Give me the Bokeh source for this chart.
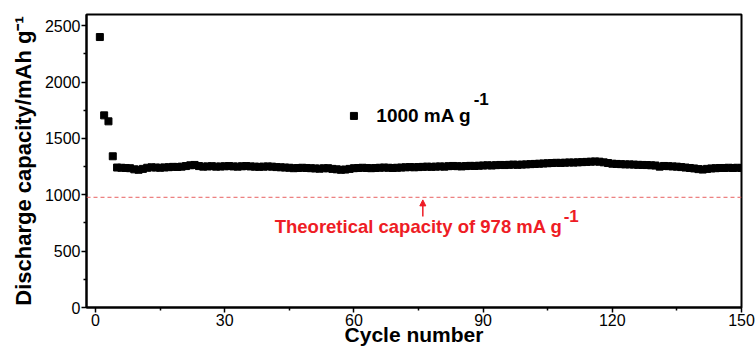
from bokeh.plotting import figure
from bokeh.models import Span, Arrow, NormalHead, Label, Range1d, FixedTicker
from bokeh.embed import file_html
from bokeh.resources import INLINE

# ---- data ----
cycles = list(range(1, 151))
capacity = [
    2400, 1705, 1652, 1342, 1242, 1240, 1238, 1236, 1226, 1222,
    1230, 1240, 1244, 1242, 1240, 1243, 1245, 1248, 1247, 1250,
    1255, 1262, 1265, 1255, 1250, 1252, 1254, 1250, 1251, 1253,
    1255, 1252, 1250, 1253, 1255, 1252, 1250, 1248, 1250, 1252,
    1250, 1246, 1244, 1242, 1240, 1236, 1238, 1240, 1238, 1236,
    1234, 1232, 1235, 1236, 1230, 1226, 1222, 1224, 1230, 1236,
    1238, 1240, 1238, 1236, 1238, 1240, 1242, 1240, 1238, 1240,
    1242, 1244, 1246, 1244, 1246, 1248, 1250, 1248, 1250, 1252,
    1250, 1254, 1256, 1254, 1252, 1255, 1257, 1256, 1258, 1260,
    1262, 1260, 1263, 1265, 1264, 1266, 1268, 1266, 1268, 1270,
    1272, 1274, 1276, 1278, 1280, 1282, 1284, 1283, 1285, 1287,
    1286, 1288, 1290, 1292, 1294, 1296, 1294, 1288, 1282, 1276,
    1274, 1272, 1270, 1270, 1268, 1266, 1265, 1264, 1262, 1260,
    1250, 1256, 1254, 1252, 1250, 1246, 1242, 1238, 1234, 1228,
    1224, 1230, 1234, 1236, 1238, 1238, 1240, 1238, 1240, 1238,
]
x_ticks = [0, 30, 60, 90, 120, 150]
y_ticks = [0, 500, 1000, 1500, 2000, 2500]
theoretical_capacity = 978
legend_point_x = [60]
legend_point_y = [1700]
legend_text = "1000 mA g"
annotation_text = "Theoretical capacity of 978 mA g"
x_title = "Cycle number"
y_title = "Discharge capacity/mAh g\u207b\u00b9"
sup_text = "-1"

FONT = "Liberation Sans"
RED = "#ee1c25"

p = figure(width=756, height=348, output_backend="svg", toolbar_location=None,
           x_range=Range1d(-2.1, 150), y_range=Range1d(0, 2600),
           min_border_left=86, min_border_right=15, min_border_top=14, min_border_bottom=41)
p.grid.visible = False
p.outline_line_color = "black"
p.outline_line_width = 2
p.outline_line_alpha = 1
p.background_fill_color = "white"
p.border_fill_color = "white"

for ax, ticks in ((p.xaxis, x_ticks), (p.yaxis, y_ticks)):
    step = ticks[1] - ticks[0]
    minors = [t + step / 2 for t in ticks[:-1]]
    ax.ticker = FixedTicker(ticks=ticks, minor_ticks=minors)
    ax.axis_line_color = "black"
    ax.axis_line_width = 2
    ax.major_tick_line_width = 1.5
    ax.minor_tick_line_width = 1.5
    ax.major_tick_out = 5
    ax.major_tick_in = 0
    ax.minor_tick_out = 3
    ax.minor_tick_in = 0
    ax.major_label_text_font = FONT
    ax.major_label_text_font_size = "16px"
    ax.major_label_text_color = "black"
    ax.major_label_standoff = 1
    ax.axis_label_text_font = FONT
    ax.axis_label_text_font_style = "bold"
    ax.axis_label_text_color = "black"

p.xaxis.axis_label = x_title
p.xaxis.axis_label_text_font_size = "21px"
p.xaxis.axis_label_standoff = -6
p.yaxis.axis_label = y_title
p.yaxis.axis_label_text_font_size = "22px"
p.yaxis.axis_label_standoff = 6

p.square(cycles, capacity, size=7, color="black")

p.add_layout(Span(location=theoretical_capacity, dimension="width", line_color="#e86060",
                  line_width=1, line_dash="4 3"))
p.add_layout(Arrow(end=NormalHead(size=6, fill_color=RED, line_color=RED),
                   x_start=76, y_start=807, x_end=76, y_end=955,
                   line_color=RED, line_width=1.5))

# legend
p.square(legend_point_x, legend_point_y, size=7, color="black")
p.add_layout(Label(x=65.2, y=1702, text=legend_text, text_font=FONT, text_font_size="19px",
                   text_font_style="bold", text_color="black", text_baseline="middle"))
p.add_layout(Label(x=87.8, y=1848, text=sup_text, text_font=FONT, text_font_size="17px",
                   text_font_style="bold", text_color="black", text_baseline="middle"))

# annotation
p.add_layout(Label(x=41.6, y=718, text=annotation_text, text_font=FONT, text_font_size="18.5px",
                   text_font_style="bold", text_color=RED, text_baseline="middle"))
p.add_layout(Label(x=108.7, y=816, text=sup_text, text_font=FONT, text_font_size="17px",
                   text_font_style="bold", text_color=RED, text_baseline="middle"))

open("out.html", "w").write(file_html(p, INLINE))
